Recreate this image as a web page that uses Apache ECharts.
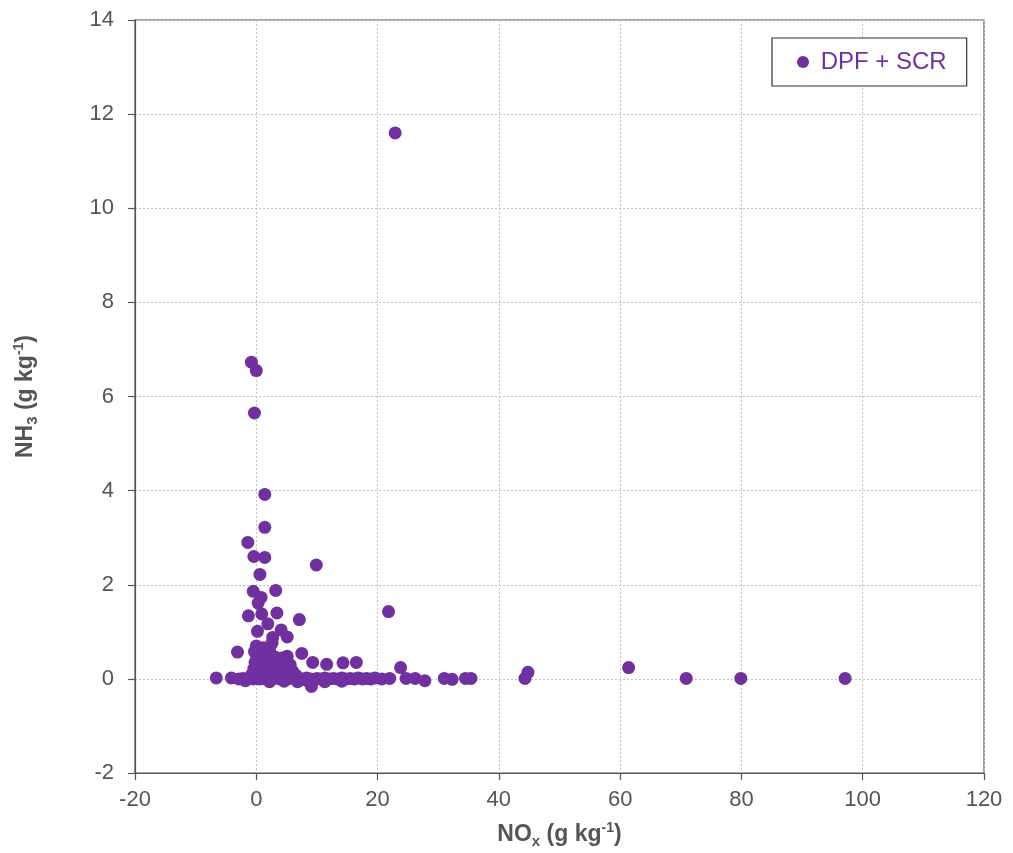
<!DOCTYPE html>
<html>
<head>
<meta charset="utf-8">
<title>NH3 vs NOx emission factors</title>
<script src="https://cdn.jsdelivr.net/npm/echarts@6/dist/echarts.min.js"></script>
<style>
  html, body { margin: 0; padding: 0; background: #ffffff; }
  #chart { width: 1013px; height: 853px; }
</style>
</head>
<body>
<div id="chart"></div>
<script>
// Emission factors (g per kg fuel) for DPF + SCR equipped vehicles
const seriesName = 'DPF + SCR';

const noxValues = [
  22.9, -0.8, 0.0, -0.3, 1.4, 1.4, -1.4, -0.4, 1.4, 0.6, 9.9, 21.8, -0.5, 3.2, 0.8, 0.3,
  -1.3, 0.9, 3.4, 1.9, 7.1, 0.2, 4.1, 2.7, 5.1, 2.6, -3.1, 7.5, 9.3, 11.6, 14.3, 16.5,
  23.8, 44.8, 61.4, 5.1, 3.9,
  0.0, 0.3, -0.3, 0.6, 0.1, 1.0, -0.2, 0.5, 1.3, -0.4, 0.2, 0.8, 1.6, -0.7, 1.8, 2.1,
  2.4, 2.2, 1.2, 2.9, 3.2, 3.5, 3.8, 4.3, 4.7, 5.4, 6.0, 6.6, 4.4, 3.0, 2.6, 5.6,
  1.5, 0.4, 2.0,
  -6.6, -4.1, -2.9, -2.2, -1.6, -1.0, -0.5, 0.0, 0.5, 1.0, 1.5, 2.1, 2.7, 3.3, 3.9, 4.5,
  5.1, 5.7, 6.3, 6.9, 7.6, 8.3, 9.0, 10.0, 10.6, 11.3, 12.0, 12.7, 13.4, 14.1, 14.8, 15.5,
  16.2, 16.8, 17.5, 18.2, 18.9, 19.6, 20.7, 22.0, 24.7, 26.2, 27.8, 31.0, 32.3, 34.5, 35.4,
  44.3, 70.9, 79.9, 97.1,
  9.1, 11.3, 14.1, 2.2, -1.8, 4.6, 6.8, 8.4
];

const nh3Values = [
  11.6, 6.73, 6.55, 5.65, 3.92, 3.22, 2.9, 2.6, 2.58, 2.22, 2.42, 1.43, 1.86, 1.88, 1.73, 1.61,
  1.34, 1.38, 1.40, 1.17, 1.26, 1.01, 1.04, 0.88, 0.89, 0.76, 0.57, 0.54, 0.35, 0.31, 0.34, 0.35,
  0.24, 0.14, 0.24, 0.48, 0.40,
  0.70, 0.62, 0.58, 0.50, 0.45, 0.42, 0.35, 0.30, 0.28, 0.22, 0.18, 0.12, 0.08, 0.10, 0.50, 0.35,
  0.22, 0.62, 0.66, 0.30, 0.46, 0.25, 0.12, 0.30, 0.18, 0.12, 0.16, 0.07, 0.45, 0.10, 0.15, 0.30,
  0.18, 0.05, 0.05,
  0.02, 0.02, 0.00, 0.01, 0.00, 0.02, 0.00, 0.01, 0.00, 0.02, 0.00, 0.01, 0.00, 0.02, 0.00, 0.01,
  0.00, 0.02, 0.00, 0.01, 0.00, 0.02, 0.00, 0.01, 0.00, 0.02, 0.00, 0.01, 0.00, 0.02, 0.00, 0.01,
  0.00, 0.02, 0.00, 0.01, 0.00, 0.02, 0.00, 0.01, 0.01, 0.01, -0.04, 0.01, -0.01, 0.01, 0.01,
  0.01, 0.01, 0.01, 0.01,
  -0.16, -0.06, -0.05, -0.06, -0.04, -0.05, -0.06, -0.04
];

const xTicks = { min: -20, max: 120, step: 20 };
const yTicks = { min: -2, max: 14, step: 2 };

const points = noxValues.map((x, i) => [x, nh3Values[i]]);

const purple = '#7030A0';
const axisGrey = '#555555';
const labelFont = 'Liberation Sans, Arial, Helvetica, sans-serif';

const titleRich = {
  b:   { fontFamily: labelFont, fontWeight: 'bold', fontSize: 23, color: axisGrey },
  sub: { fontFamily: labelFont, fontWeight: 'bold', fontSize: 15, color: axisGrey, verticalAlign: 'bottom', lineHeight: 28 },
  sup: { fontFamily: labelFont, fontWeight: 'bold', fontSize: 14, color: axisGrey, verticalAlign: 'top' }
};

const chart = echarts.init(document.getElementById('chart'), null, { renderer: 'canvas' });

chart.setOption({
  animation: false,
  backgroundColor: '#ffffff',
  grid: {
    left: 135, right: 29, top: 20, bottom: 80,
    outerBoundsMode: 'none',
    containLabel: false,
    show: true, borderColor: axisGrey, borderWidth: 1.2, backgroundColor: 'transparent'
  },
  legend: {
    data: [seriesName],
    left: 772, top: 38,
    orient: 'horizontal',
    icon: 'circle',
    itemWidth: 12, itemHeight: 12, itemGap: 6,
    padding: [12, 20, 12, 25],
    borderColor: '#333333', borderWidth: 1.2,
    backgroundColor: '#ffffff',
    formatter: (name) => ' ' + name,
    textStyle: { color: purple, fontSize: 24, fontFamily: labelFont }
  },
  xAxis: {
    type: 'value',
    min: xTicks.min, max: xTicks.max, interval: xTicks.step,
    name: '{b|NO}{sub|x}{b| (g kg}{sup|-1}{b|)}',
    nameLocation: 'middle',
    nameGap: 48,
    nameTextStyle: { rich: titleRich },
    axisLine: { onZero: false, lineStyle: { color: axisGrey, width: 1.2 } },
    axisTick: { show: true, inside: false, length: 7, lineStyle: { color: axisGrey, width: 1.2 } },
    axisLabel: { color: axisGrey, fontSize: 22, fontFamily: labelFont, margin: 16 },
    splitLine: { show: true, lineStyle: { color: '#c4c4c4', type: [2, 2], width: 1 } }
  },
  yAxis: {
    type: 'value',
    min: yTicks.min, max: yTicks.max, interval: yTicks.step,
    name: '{b|NH}{sub|3}{b| (g kg}{sup|-1}{b|)}',
    nameLocation: 'middle',
    nameGap: 95,
    nameRotate: 90,
    nameTextStyle: { rich: titleRich },
    axisLine: { onZero: false, lineStyle: { color: axisGrey, width: 1.2 } },
    axisTick: { show: true, inside: false, length: 7, lineStyle: { color: axisGrey, width: 1.2 } },
    axisLabel: { color: axisGrey, fontSize: 22, fontFamily: labelFont, margin: 21 },
    splitLine: { show: true, lineStyle: { color: '#c4c4c4', type: [2, 2], width: 1 } }
  },
  series: [{
    name: seriesName,
    type: 'scatter',
    symbol: 'circle',
    symbolSize: 13,
    itemStyle: { color: purple, opacity: 1 },
    data: points
  }]
});
</script>
</body>
</html>
